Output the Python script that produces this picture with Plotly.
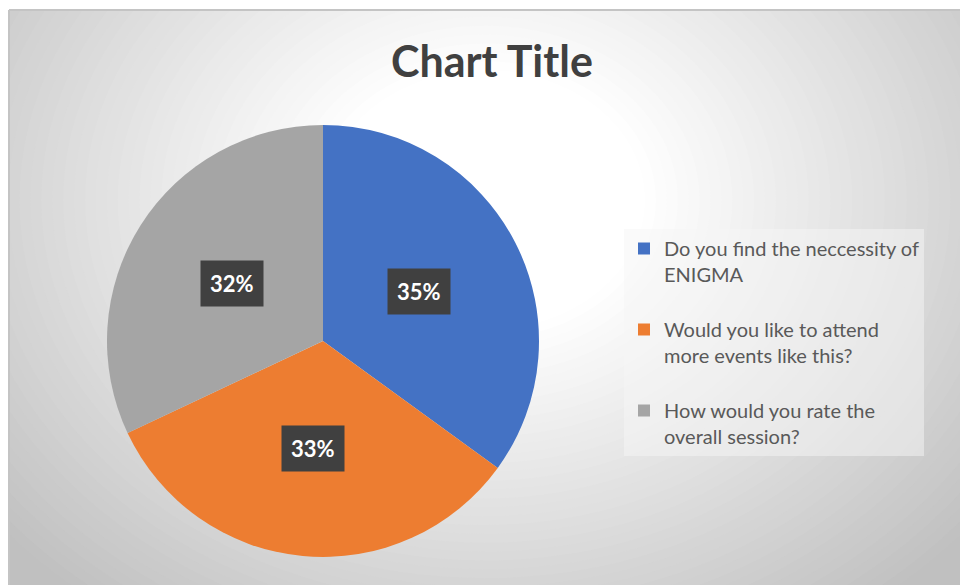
import math
import plotly.graph_objects as go

# ---- data ----
categories = [
    "Do you find the neccessity of<br>ENIGMA",
    "Would you like to attend<br>more events like this?",
    "How would you rate the<br>overall session?",
]
values = [35, 33, 32]
colors = ["#4472C4", "#ED7D31", "#A5A5A5"]
title_text = "Chart Title"

# ---- layout geometry (screen pixels) ----
W, H = 960, 585
cx, cy, R = 323, 341, 216


def px_x(x):
    return x / W


def px_y(y):
    return 1 - y / H


# spacer line after each legend entry (except the last) to match entry spacing
legend_labels = [c + ("<br> " if i < len(categories) - 1 else "") for i, c in enumerate(categories)]

fig = go.Figure()
fig.add_trace(go.Pie(
    labels=legend_labels,
    values=values,
    sort=False,
    direction="clockwise",
    rotation=0,
    marker=dict(colors=colors, line=dict(width=0)),
    textinfo="none",
    hoverinfo="percent",
    domain=dict(x=[px_x(cx - R), px_x(cx + R)], y=[px_y(cy + R), px_y(cy - R)]),
))

# data labels with dark boxes, positioned from the values
total = sum(values)
annotations = []
cum = 0.0
for v in values:
    mid = (cum + v / 2) / total * 2 * math.pi
    cum += v
    lx = cx + 0.5 * R * math.sin(mid)
    ly = cy - 0.5 * R * math.cos(mid)
    annotations.append(dict(
        x=px_x(lx), y=px_y(ly), xref="paper", yref="paper",
        text=f"<b>{round(v / total * 100)}%</b>", showarrow=False,
        font=dict(family="Lato", size=22, color="white"),
        bgcolor="#404040", borderpad=9, xanchor="center", yanchor="middle",
    ))

# background: radial gradient built from opaque concentric ellipses
shapes = [dict(type="rect", xref="paper", yref="paper",
               x0=px_x(9), x1=1.02, y0=-0.02, y1=px_y(10),
               fillcolor="#c0c0c0", line=dict(width=0), layer="below")]
gx, gy, grx, gry = 485, 200, 640, 520
steps = 45
core = 0.25
for i in range(steps):
    f = 1.0 - (1.0 - core) * i / (steps - 1)
    t = min(1.0, (1.0 - f) / (1.0 - core))
    c = int(round(0xC0 + t * (0xFF - 0xC0)))
    shapes.append(dict(type="circle", xref="paper", yref="paper",
                       x0=px_x(gx - grx * f), x1=px_x(gx + grx * f),
                       y0=px_y(gy + gry * f), y1=px_y(gy - gry * f),
                       fillcolor=f"rgb({c},{c},{c})", line=dict(width=0), layer="below"))
# white strips outside the chart area
shapes.append(dict(type="rect", xref="paper", yref="paper", x0=-0.01, x1=px_x(9), y0=-0.01, y1=1.01,
                   fillcolor="white", line=dict(width=0), layer="below"))
shapes.append(dict(type="rect", xref="paper", yref="paper", x0=-0.01, x1=1.01, y0=px_y(10), y1=1.01,
                   fillcolor="white", line=dict(width=0), layer="below"))
shapes.append(dict(type="line", xref="paper", yref="paper", x0=px_x(9), x1=1, y0=px_y(10), y1=px_y(10),
                   line=dict(color="#c4c4c4", width=2), layer="below"))
shapes.append(dict(type="line", xref="paper", yref="paper", x0=px_x(9), x1=px_x(9), y0=0, y1=px_y(10),
                   line=dict(color="#c4c4c4", width=2), layer="below"))

fig.update_layout(
    width=W, height=H,
    margin=dict(l=0, r=0, t=0, b=0),
    paper_bgcolor="white",
    title=dict(text=f"<b>{title_text}</b>", x=px_x(492), y=px_y(62),
               xanchor="center", yanchor="middle",
               font=dict(family="Lato", size=43, color="#404040")),
    legend=dict(x=px_x(624), y=px_y(229), xanchor="left", yanchor="top",
                font=dict(family="Lato", size=20, color="#595959"),
                bgcolor="rgba(246,246,246,0.5)", itemwidth=30, valign="top"),
    shapes=shapes,
    annotations=annotations,
    showlegend=True,
)

fig.write_html(
    "out.html",
    config={"displayModeBar": False},
    post_script="document.body.style.margin='0';document.body.style.overflow='hidden';",
)
